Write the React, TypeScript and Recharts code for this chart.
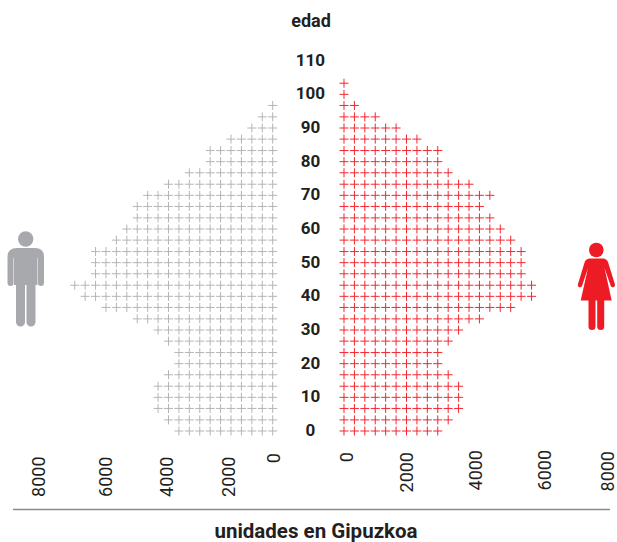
import React from "react";
import { ScatterChart, Scatter, XAxis, YAxis } from "recharts";

// Age at each row of pluses, from the top row down
const rowAges = [
  103.3, 100, 96.7, 93.3, 90, 86.7, 83.3, 80, 76.7, 73.3, 70, 66.7, 63.3, 60, 56.7, 53.3,
  50, 46.7, 43.3, 40, 36.7, 33.3, 30, 26.7, 23.3, 20, 16.7, 13.3, 10, 6.7, 3.3, 0,
];
// Number of pluses in each row
const menPluses = [
  0, 0, 1, 2, 3, 5, 7, 7, 9, 11, 13, 14, 14, 15, 16, 18,
  18, 18, 20, 19, 17, 14, 12, 11, 10, 10, 11, 12, 12, 12, 11, 10,
];
const womenPluses = [
  1, 1, 2, 4, 6, 8, 10, 10, 11, 13, 15, 14, 15, 16, 17, 18,
  18, 18, 19, 19, 17, 14, 12, 11, 10, 10, 11, 12, 12, 12, 11, 10,
];
const personsPerPlus = 320;
const ageTicks = [0, 10, 20, 30, 40, 50, 60, 70, 80, 90, 100, 110];
const unitTicks = [0, 2000, 4000, 6000, 8000];

const GREY = "#b4b5b7";
const RED = "#ed1c24";
const RED_PLUS = "#f4262f";
const INK = "#231f20";
const FONT = "Roboto, sans-serif";

const expand = (counts: number[]) =>
  counts.flatMap((count, row) =>
    Array.from({ length: count }, (_, i) => ({ units: i * personsPerPlus, age: rowAges[row] }))
  );

const menData = expand(menPluses);
const womenData = expand(womenPluses);

const plus = (color: string) => (props: any) => {
  const { cx, cy } = props;
  const r = 4.5;
  return (
    <path
      d={`M${cx - r} ${cy}H${cx + r}M${cx} ${cy - r}V${cy + r}`}
      stroke={color}
      strokeWidth={1}
      fill="none"
    />
  );
};

// The reference's unit labels are placed by hand and sit off the plus grid
const menLabelNudge: Record<number, number> = { 0: 1.3, 2000: 21.4, 4000: 24.5, 6000: 28.6, 8000: 26.4 };
const womenLabelNudge: Record<number, number> = { 0: 3, 2000: -3, 4000: 1, 6000: 5, 8000: 3.5 };
const menLabelTop: Record<number, number> = { 0: 453, 2000: 456.5, 4000: 456.5, 6000: 456.5, 8000: 456.5 };
const womenLabelTop: Record<number, number> = { 0: 452, 2000: 452, 4000: 450, 6000: 450, 8000: 451 };

const unitTick = (nudge: Record<number, number>, top: Record<number, number>) => (props: any) => {
  const v = props.payload.value;
  const x = props.x + nudge[v] + 6.5;
  const y = top[v];
  return (
    <text
      x={x}
      y={y}
      transform={`rotate(-90 ${x} ${y})`}
      textAnchor="end"
      fontFamily={FONT}
      fontSize={18}
      fill={INK}
    >
      {v}
    </text>
  );
};

const ageTick = (props: any) => (
  <text
    x={310.5}
    y={props.y + 5}
    textAnchor="middle"
    fontFamily={FONT}
    fontWeight={700}
    fontSize={17}
    fill={INK}
  >
    {props.payload.value}
  </text>
);

export default function App() {
  return (
    <div style={{ position: "absolute", left: 0, top: 0, width: 617, height: 542, background: "#fff" }}>
      <ScatterChart
        width={617}
        height={542}
        margin={{ top: 27, right: 0, bottom: 109, left: -1 }}
      >
        <XAxis
          xAxisId="men"
          type="number"
          dataKey="units"
          reversed
          domain={[-10575, 8375]}
          ticks={unitTicks}
          interval={0}
          height={1}
          axisLine={false}
          tickLine={false}
          tick={unitTick(menLabelNudge, menLabelTop)}
        />
        <XAxis
          xAxisId="women"
          type="number"
          dataKey="units"
          domain={[-10565, 8385]}
          ticks={unitTicks}
          interval={0}
          height={1}
          axisLine={false}
          tickLine={false}
          tick={unitTick(womenLabelNudge, womenLabelTop)}
        />
        <YAxis
          type="number"
          dataKey="age"
          domain={[0, 120]}
          ticks={ageTicks}
          interval={0}
          width={1}
          axisLine={false}
          tickLine={false}
          tick={ageTick}
        />
        <Scatter xAxisId="men" data={menData} shape={plus(GREY)} isAnimationActive={false} />
        <Scatter xAxisId="women" data={womenData} shape={plus(RED_PLUS)} isAnimationActive={false} />
      </ScatterChart>

      <svg
        width={617}
        height={542}
        style={{ position: "absolute", left: 0, top: 0, pointerEvents: "none" }}
      >
        <text x={311} y={27} textAnchor="middle" fontFamily={FONT} fontWeight={700} fontSize={18} fill={INK}>
          edad
        </text>
        <line x1={13} x2={610} y1={509.5} y2={509.5} stroke="#8a8a8a" strokeWidth={1.5} />
        <text x={316} y={537.5} textAnchor="middle" fontFamily={FONT} fontWeight={700} fontSize={20.5} fill={INK}>
          unidades en Gipuzkoa
        </text>

        {/* man */}
        <g fill="#a7a9ac">
          <circle cx={25.7} cy={239} r={7.7} />
          <path d="M7.5 283V257Q7.5 248 17 248H35Q44 248 44 257V283A3 3 0 0 1 38 283V258H37.5V285H35.5V322A4.5 4.5 0 0 1 26.5 322V285H25V322A4.5 4.5 0 0 1 16 322V285H14V258H13.5V283A3 3 0 0 1 7.5 283Z" />
        </g>
        {/* woman */}
        <g fill={RED}>
          <circle cx={596.3} cy={250} r={7.3} />
          <path d="M590 258.5H603Q606.5 258.5 608 262L614.8 284A2.2 2.2 0 0 1 610.8 286L604.5 268L611.7 300.5H580.7L588 268L582 286A2.2 2.2 0 0 1 578 284L584.7 262Q586 258.5 590 258.5Z" />
          <path d="M588.5 300H595.5V326.5A3.5 3.5 0 0 1 588.5 326.5Z" />
          <path d="M597.2 300H604.2V326.5A3.5 3.5 0 0 1 597.2 326.5Z" />
        </g>
      </svg>
    </div>
  );
}
